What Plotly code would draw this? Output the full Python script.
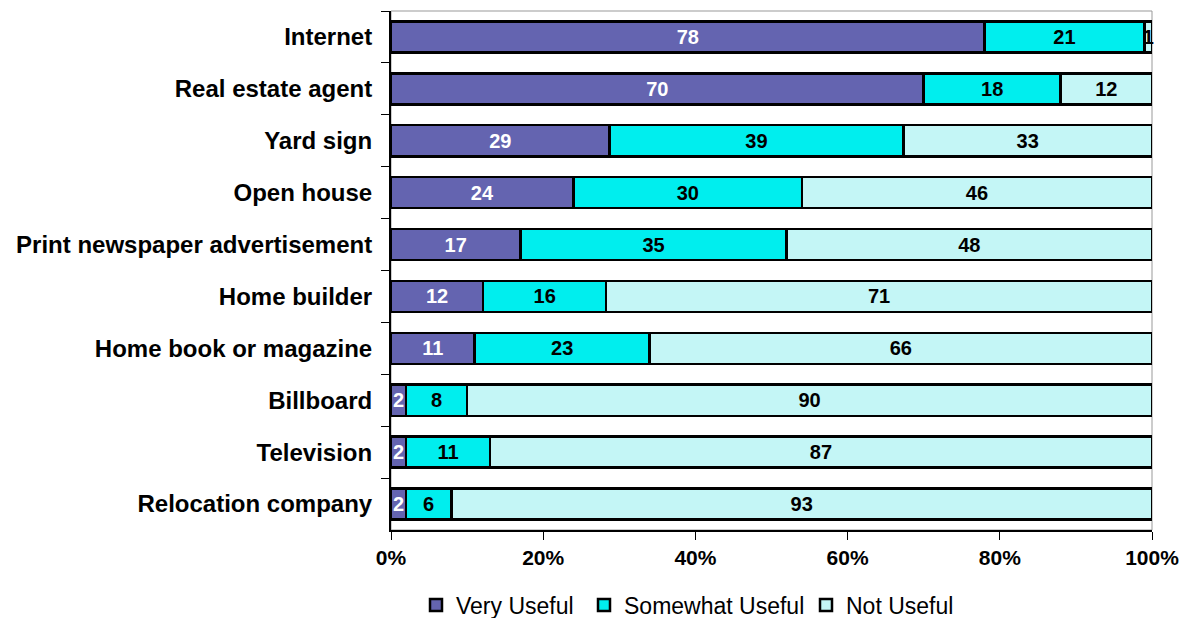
import plotly.graph_objects as go

# Usefulness of information sources when searching for a home (percent of respondents)
sources = [
    "Internet",
    "Real estate agent",
    "Yard sign",
    "Open house",
    "Print newspaper advertisement",
    "Home builder",
    "Home book or magazine",
    "Billboard",
    "Television",
    "Relocation company",
]
very_useful = [78, 70, 29, 24, 17, 12, 11, 2, 2, 2]
somewhat_useful = [21, 18, 39, 30, 35, 16, 23, 8, 11, 6]
not_useful = [1, 12, 33, 46, 48, 71, 66, 90, 87, 93]

x_ticks = [0, 20, 40, 60, 80, 100]

FONT = "Arial, Liberation Sans, sans-serif"

# name, values, fill, label colour, legend id, legend left edge (px)
series = [
    ("Very Useful", very_useful, "#6464B0", "white", "legend", 416),
    ("Somewhat Useful", somewhat_useful, "#00EEEE", "black", "legend2", 584),
    ("Not Useful", not_useful, "#C4F6F6", "black", "legend3", 806),
]

fig = go.Figure()
legends = {}
for name, vals, color, txtcolor, leg, leg_x in series:
    fig.add_trace(go.Bar(
        name=name,
        y=sources,
        x=vals,
        orientation="h",
        text=[str(v) for v in vals],
        textposition="inside",
        insidetextanchor="middle",
        textangle=0,
        textfont=dict(family=FONT, size=20, color=txtcolor, weight="bold"),
        marker=dict(color=color, line=dict(color="black", width=2.5)),
        hoverinfo="skip",
        cliponaxis=False,
        legend=leg,
    ))
    legends[leg] = dict(
        orientation="h",
        xref="container", x=leg_x / 1190, xanchor="left",
        yref="container", y=1 - 605 / 618, yanchor="middle",
        font=dict(family=FONT, size=23, color="black"),
        itemwidth=30,
        bgcolor="rgba(0,0,0,0)",
    )

fig.update_layout(
    barmode="stack",
    barnorm="percent",
    bargap=0.40,
    width=1190,
    height=618,
    margin=dict(l=391, r=38, t=11, b=88, autoexpand=False),
    paper_bgcolor="white",
    plot_bgcolor="white",
    font=dict(family=FONT, color="black"),
    uniformtext=dict(minsize=20, mode="show"),
    showlegend=True,
    shapes=[dict(
        type="rect", xref="paper", yref="paper",
        x0=0, x1=1, y0=0, y1=1,
        line=dict(color="#999999", width=1),
        layer="below",
    )],
    **legends,
)

fig.update_xaxes(
    range=[0, 100],
    tickvals=x_ticks,
    ticktext=[f"{t}%" for t in x_ticks],
    ticks="outside",
    ticklen=8,
    tickcolor="black",
    showline=True,
    linecolor="black",
    linewidth=2,
    showgrid=False,
    zeroline=False,
    automargin=False,
    tickfont=dict(family=FONT, size=21, color="black", weight="bold"),
)
fig.update_yaxes(
    categoryorder="array",
    categoryarray=sources,
    autorange="reversed",
    tickson="boundaries",
    ticks="outside",
    ticklen=8,
    tickcolor="black",
    showline=True,
    linecolor="black",
    linewidth=2,
    showgrid=False,
    automargin=False,
    ticklabelstandoff=12,
    tickfont=dict(family=FONT, size=24, color="black", weight="bold"),
)

fig.write_html("out.html")
